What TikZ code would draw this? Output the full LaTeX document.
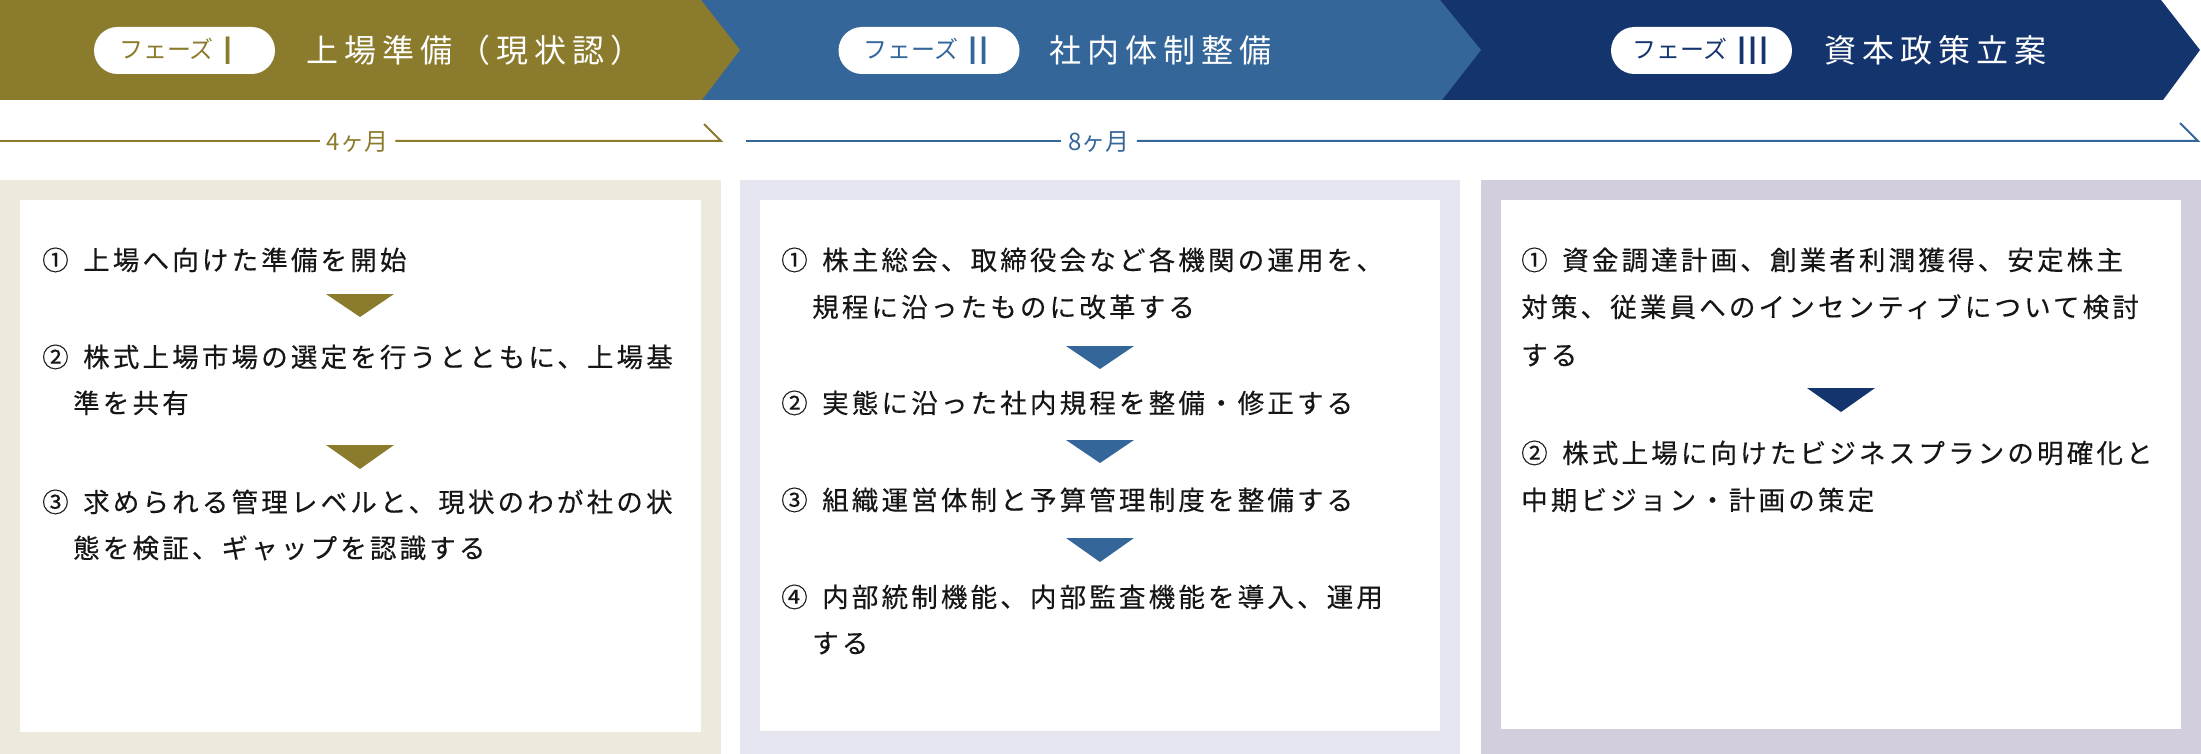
\documentclass[tikz,border=0pt]{standalone}
\usepackage{fontspec}
\newfontfamily\jp{Noto Sans CJK JP}
\newfontfamily\jpbody[LetterSpace=12,FakeBold=0.3]{Noto Sans CJK JP}
\newfontfamily\jptitle[LetterSpace=19]{Noto Sans CJK JP}
\newfontfamily\romfont{Liberation Sans}
\definecolor{olivec}{HTML}{8B7B2C}
\definecolor{bluec}{HTML}{356699}
\definecolor{navyc}{HTML}{14346E}
\definecolor{beigebg}{HTML}{EDEADD}
\definecolor{lavbg}{HTML}{E5E5F0}
\definecolor{graybg}{HTML}{D2CEDE}
\definecolor{txtc}{HTML}{161616}
\newcommand\itm[2]{\makebox[41pt][l]{#1}#2}
\newcommand\pilltext[3]{{\jp\fontsize{24}{26}\selectfont\color{#1}フェーズ}\hspace{9pt}\raisebox{-6pt}{\romfont\fontsize{40}{40}\selectfont\color{#1}#2}\kern#3\relax}
\tikzset{
  body/.style={anchor=base west, inner sep=0, text=txtc, font=\jpbody\fontsize{26.5}{30}\selectfont},
  ttl/.style={anchor=base west, inner sep=0, text=white, font=\jptitle\fontsize{32}{36}\selectfont},
  pill/.style={fill=white, rounded corners=23.5pt, minimum width=181pt, minimum height=47pt, inner sep=0},
  dur/.style={inner xsep=7pt, inner ysep=0, font=\jp\fontsize{24}{28}\selectfont},
  durline/.style={line width=2pt},
}
\begin{document}
\begin{tikzpicture}[x=1pt, y=-1pt]
\useasboundingbox (0,0) rectangle (2201,754);
% banner
\fill[navyc] (1430,0) -- (2161,0) -- (2200,50) -- (2163,100) -- (1430,100) -- cycle;
\fill[bluec] (690,0) -- (1440,0) -- (1481,50) -- (1442,100) -- (690,100) -- cycle;
\fill[olivec] (0,0) -- (701,0) -- (740,50) -- (702,100) -- (0,100) -- cycle;
\node[pill] (p1) at (184.5,50.5) {\pilltext{olivec}{I}{16pt}};
\node[pill] (p2) at (929,50.5) {\pilltext{bluec}{II}{4pt}};
\node[pill] (p3) at (1701.5,50.5) {\pilltext{navyc}{III}{0pt}};
\node[ttl] (t1) at (306,63) {上場準備（現状認）};
\node[ttl] (t2) at (1049,63) {社内体制整備};
\node[ttl] (t3) at (1824,63) {資本政策立案};
% durations
\node[dur, text=olivec] (d1) at (357.5,142) {4ヶ月};
\node[dur, text=bluec] (d2) at (1099,142) {8ヶ月};
\coordinate (l1s) at (0,141);
\coordinate (l1e) at (721,141);
\coordinate (l1h) at (704,124);
\coordinate (l2s) at (746,141);
\coordinate (l2e) at (2198,141);
\coordinate (l2h) at (2180,123);
\draw[durline, olivec] (l1s) -- (l1s -| d1.west);
\draw[durline, olivec] (l1s -| d1.east) -- (l1e) -- (l1h);
\draw[durline, bluec] (l2s) -- (l2s -| d2.west);
\draw[durline, bluec] (l2s -| d2.east) -- (l2e) -- (l2h);
% boxes
\fill[beigebg] (0,180) rectangle (721,754);
\fill[white] (20,200) rectangle (701,732);
\fill[lavbg] (740,180) rectangle (1460,754);
\fill[white] (760,200) rectangle (1440,731);
\fill[graybg] (1481,180) rectangle (2201,754);
\fill[white] (1501,200) rectangle (2181,729);
% box 1
\node[body] (a1) at (42,270) {\itm{①}{上場へ向けた準備を開始}};
\fill[olivec] (326,294) -- (394,294) -- (360,317) -- cycle;
\node[body] (a2) at (42,367) {\itm{②}{株式上場市場の選定を行うとともに、上場基}};
\node[body] (a2b) at (73,413) {準を共有};
\fill[olivec] (326,445) -- (394,445) -- (360,469) -- cycle;
\node[body] (a3) at (42,512) {\itm{③}{求められる管理レベルと、現状のわが社の状}};
\node[body] (a3b) at (73,558) {態を検証、ギャップを認識する};
% box 2
\node[body] (b1) at (781,270) {\itm{①}{株主総会、取締役会など各機関の運用を、}};
\node[body] (b1b) at (812,317) {規程に沿ったものに改革する};
\fill[bluec] (1066,346) -- (1134,346) -- (1100,369) -- cycle;
\node[body] (b2) at (781,413) {\itm{②}{実態に沿った社内規程を整備・修正する}};
\fill[bluec] (1066,440) -- (1134,440) -- (1100,463) -- cycle;
\node[body] (b3) at (781,510) {\itm{③}{組織運営体制と予算管理制度を整備する}};
\fill[bluec] (1066,538) -- (1134,538) -- (1100,562) -- cycle;
\node[body] (b4) at (781,607) {\itm{④}{内部統制機能、内部監査機能を導入、運用}};
\node[body] (b4b) at (812,653) {する};
% box 3
\node[body] (c1) at (1521,270) {\itm{①}{資金調達計画、創業者利潤獲得、安定株主}};
\node[body] (c1b) at (1521,317) {対策、従業員へのインセンティブについて検討};
\node[body] (c1c) at (1521,365) {する};
\fill[navyc] (1807,388) -- (1875,388) -- (1841,412) -- cycle;
\node[body] (c2) at (1521,463) {\itm{②}{株式上場に向けたビジネスプランの明確化と}};
\node[body] (c2b) at (1521,510) {中期ビジョン・計画の策定};
\end{tikzpicture}
\end{document}
